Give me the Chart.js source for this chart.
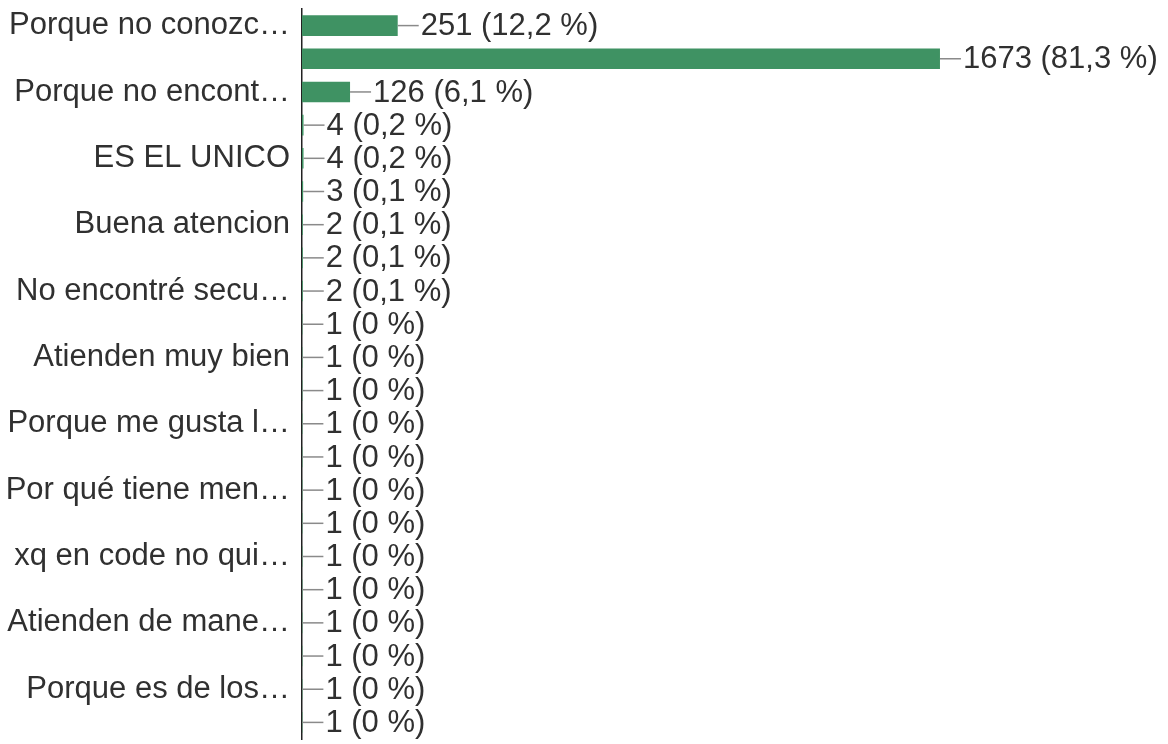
<!DOCTYPE html>
<html>
<head>
<meta charset="utf-8">
<script src="https://cdn.jsdelivr.net/npm/chart.js@4"></script>
<style>
  html, body { margin: 0; padding: 0; background: #fff; }
  #wrap { width: 1168px; height: 744px; }
</style>
</head>
<body>
<div id="wrap"><canvas id="chart"></canvas></div>
<script>
// Answers. Every other category label is hidden in
// the original (auto-skipped), so those rows carry an empty label.
const categories = [
  'Porque no conozc…', '', 'Porque no encont…', '', 'ES EL UNICO', '',
  'Buena atencion', '', 'No encontré secu…', '', 'Atienden muy bien', '',
  'Porque me gusta l…', '', 'Por qué tiene men…', '', 'xq en code no qui…', '',
  'Atienden de mane…', '', 'Porque es de los…', '',
];
const counts = [251, 1673, 126, 4, 4, 3, 2, 2, 2, 1, 1, 1, 1, 1, 1, 1, 1, 1, 1, 1, 1, 1];
const percents = ['12,2', '81,3', '6,1', '0,2', '0,2', '0,1', '0,1', '0,1', '0,1',
  '0', '0', '0', '0', '0', '0', '0', '0', '0', '0', '0', '0', '0'];

const BAR_COLOR = '#3f9263';
const TEXT_COLOR = '#303030';
const FONT = "'Liberation Sans', Arial, sans-serif";
const FONT_SIZE = 31;

// Leader line + "count (pct %)" to the right of every bar.
const valueLabels = {
  id: 'valueLabels',
  afterDatasetsDraw(chart) {
    const { ctx } = chart;
    const meta = chart.getDatasetMeta(0);
    ctx.save();
    ctx.font = `${FONT_SIZE}px ${FONT}`;
    ctx.textBaseline = 'middle';
    ctx.textAlign = 'left';
    meta.data.forEach((bar, i) => {
      const x = bar.x;
      const y = bar.y;
      ctx.strokeStyle = '#8a8a8a';
      ctx.lineWidth = 1.5;
      ctx.beginPath();
      ctx.moveTo(x, y);
      ctx.lineTo(x + 21, y);
      ctx.stroke();
      ctx.fillStyle = TEXT_COLOR;
      ctx.fillText(`${counts[i]} (${percents[i]} %)`, x + 23, y + 1);
    });
    ctx.restore();
  },
};

new Chart(document.getElementById('chart'), {
  type: 'bar',
  data: {
    labels: categories,
    datasets: [{
      data: counts,
      backgroundColor: BAR_COLOR,
      borderWidth: 0,
      barPercentage: 0.62,
      categoryPercentage: 1,
    }],
  },
  options: {
    indexAxis: 'y',
    responsive: true,
    maintainAspectRatio: false,
    animation: false,
    layout: { padding: { top: 9, bottom: 5, right: 8, left: 0 } },
    scales: {
      x: {
        display: false,
        min: 0,
        max: 2250,
      },
      y: {
        afterFit(scale) {
          scale.width = 302;
          scale.paddingTop = 0;
          scale.paddingBottom = 0;
        },
        grid: { display: false, drawTicks: false },
        border: { display: true, color: '#222', width: 1.5 },
        ticks: {
          autoSkip: false,
          padding: 12,
          color: TEXT_COLOR,
          font: { family: FONT, size: FONT_SIZE },
        },
      },
    },
    plugins: {
      legend: { display: false },
      tooltip: { enabled: false },
    },
  },
  plugins: [valueLabels],
});
</script>
</body>
</html>
